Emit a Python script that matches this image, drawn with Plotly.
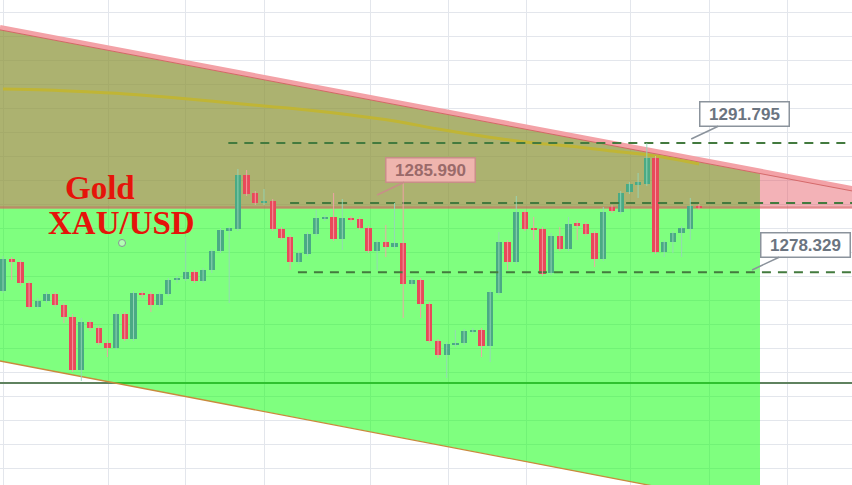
import plotly.graph_objects as go

# ---------------- data ----------------
candle_idx = list(range(81))
opens = [1276.38, 1279.71, 1279.40, 1277.21, 1274.71, 1275.34, 1276.07, 1274.92, 1273.67, 1268.15,
         1273.15, 1272.52, 1270.96, 1270.44, 1273.98, 1271.38, 1276.17, 1276.07, 1274.92, 1276.07,
         1277.52, 1277.63, 1278.36, 1277.42, 1278.57, 1280.55, 1282.73, 1282.84, 1288.46, 1286.59,
         1285.55, 1285.75, 1282.84, 1282.00, 1279.40, 1280.23, 1282.32, 1283.88, 1284.09, 1281.80,
         1283.98, 1283.88, 1282.94, 1280.55, 1281.48, 1280.96, 1281.38, 1277.11, 1277.52, 1275.02,
         1271.17, 1269.71, 1270.75, 1270.96, 1272.11, 1272.32, 1270.65, 1276.17, 1281.48, 1279.40,
         1284.61, 1282.94, 1282.84, 1278.25, 1282.11, 1280.75, 1283.36, 1283.36, 1282.42, 1279.71,
         1285.13, 1284.61, 1286.69, 1287.52, 1287.52, 1290.23, 1280.44, 1281.48, 1282.42, 1282.84,
         1285.23]
highs = [1280.02, 1279.92, 1279.61, 1277.42, 1275.65, 1276.27, 1276.27, 1275.13, 1273.98, 1273.57,
         1273.36, 1272.73, 1271.27, 1274.19, 1274.19, 1276.38, 1276.38, 1276.27, 1276.27, 1277.73,
         1277.94, 1282.00, 1278.57, 1278.77, 1280.75, 1282.94, 1283.05, 1289.09, 1288.98, 1286.79,
         1287.00, 1285.96, 1283.05, 1282.21, 1280.55, 1282.52, 1284.82, 1284.29, 1286.59, 1285.96,
         1284.19, 1284.09, 1283.15, 1281.69, 1283.25, 1285.55, 1287.63, 1277.73, 1277.73, 1275.23,
         1271.38, 1271.07, 1272.32, 1272.42, 1272.52, 1272.52, 1276.48, 1282.52, 1281.69, 1286.27,
         1284.82, 1284.09, 1283.05, 1282.42, 1283.05, 1284.09, 1283.77, 1283.57, 1282.63, 1285.13,
         1285.34, 1286.79, 1287.73, 1288.67, 1291.795, 1290.44, 1281.69, 1282.63, 1283.15, 1286.07,
         1285.44]
lows = [1276.17, 1277.52, 1276.90, 1274.50, 1274.50, 1275.13, 1274.71, 1273.05, 1267.94, 1267.00,
        1272.21, 1270.75, 1269.50, 1270.23, 1271.17, 1271.17, 1275.65, 1274.19, 1274.71, 1275.86,
        1277.21, 1277.42, 1277.21, 1277.21, 1278.25, 1280.34, 1275.13, 1282.63, 1286.27, 1285.34,
        1285.34, 1282.63, 1281.69, 1278.57, 1279.19, 1280.02, 1282.11, 1283.67, 1281.59, 1280.65,
        1283.57, 1282.73, 1280.34, 1278.57, 1279.92, 1280.75, 1273.57, 1276.90, 1273.57, 1270.96,
        1269.40, 1267.32, 1270.54, 1270.75, 1271.90, 1269.50, 1268.98, 1275.96, 1278.57, 1279.19,
        1282.63, 1281.69, 1277.94, 1278.04, 1280.55, 1280.55, 1281.69, 1282.11, 1278.88, 1279.50,
        1284.50, 1284.40, 1286.48, 1286.07, 1287.32, 1280.23, 1279.92, 1280.34, 1279.92, 1281.69,
        1284.82]
closes = [1279.71, 1279.40, 1277.21, 1274.71, 1275.34, 1276.07, 1274.92, 1273.67, 1268.15, 1273.15,
          1272.52, 1270.96, 1270.44, 1273.98, 1271.38, 1276.17, 1275.96, 1274.92, 1276.07, 1277.52,
          1277.73, 1278.36, 1277.42, 1278.57, 1280.55, 1282.73, 1282.84, 1288.46, 1286.48, 1285.55,
          1285.75, 1282.84, 1281.90, 1279.40, 1280.34, 1282.32, 1283.98, 1284.09, 1281.80, 1283.98,
          1283.77, 1282.94, 1280.55, 1281.48, 1280.96, 1281.38, 1277.11, 1277.52, 1275.02, 1271.17,
          1269.71, 1270.86, 1270.96, 1272.21, 1272.32, 1270.65, 1276.27, 1281.48, 1279.40, 1284.61,
          1282.84, 1282.73, 1278.15, 1282.11, 1280.75, 1283.36, 1283.25, 1282.32, 1279.71, 1284.61,
          1284.71, 1286.59, 1287.52, 1287.63, 1290.23, 1280.44, 1281.48, 1282.42, 1282.94, 1285.23,
          1285.02]

# moving average (read at every 5th candle)
ma_idx = [0, 5, 10, 15, 20, 25, 30, 35, 40, 45, 50, 55, 60, 65, 70, 75, 80]
ma_vals = [1297.42, 1297.32, 1297.11, 1296.85, 1296.48, 1296.07, 1295.65, 1295.23, 1294.71,
           1294.09, 1293.25, 1292.52, 1291.90, 1291.48, 1290.96, 1290.44, 1289.61]

# horizontal price levels (value, start candle)
level_vals = [1291.795, 1285.55, 1278.329]
level_start = [25.9, 33.0, 33.9]
support_level = 1266.79

# callout labels (text, anchor candle, anchor price)
label_texts = ["1291.795", "1285.990", "1278.329"]
label_idx = [79.1, 43.0, 86.1]
label_px = [1292.21, 1286.38, 1278.57]

# channel drawing anchors
chan_x = [-0.35, 97.6]
chan_top = [1303.83, 1287.05]
chan_bot = [1269.09, 1252.10]
zone_right = 87.01
pink_floor = 1284.92

x_range = [-0.345, 97.586]
y_range = [1256.17, 1306.69]
grid_x = [0, 12.07, 21.03, 30.1, 42.2, 51.15, 60.2, 72.07, 81.15, 90.2]

UP = "#4aaa84"
DN = "#e8495a"

def top_at(x):
    return chan_top[0] + (chan_top[1] - chan_top[0]) * (x - chan_x[0]) / (chan_x[1] - chan_x[0])

def bot_at(x):
    return chan_bot[0] + (chan_bot[1] - chan_bot[0]) * (x - chan_x[0]) / (chan_x[1] - chan_x[0])

fig = go.Figure()

# MA line
fig.add_trace(go.Scatter(x=ma_idx, y=ma_vals, mode="lines", line=dict(color="#c0b535", width=3, shape="spline"),
                         hoverinfo="skip", showlegend=False))

# dashed levels
for v, s in zip(level_vals, level_start):
    fig.add_trace(go.Scatter(x=[s, x_range[1]], y=[v, v], mode="lines",
                             line=dict(color="#437a3e", width=2, dash="9px,7px"),
                             hoverinfo="skip", showlegend=False))

# wicks
for up in (True, False):
    wx, wy = [], []
    for i, o, h, l, c in zip(candle_idx, opens, highs, lows, closes):
        if (c >= o) == up:
            wx += [i, i, None]
            wy += [l, h, None]
    fig.add_trace(go.Scatter(x=wx, y=wy, mode="lines",
                             line=dict(color="rgba(150,215,185,0.9)" if up else "rgba(245,160,170,0.9)", width=1),
                             hoverinfo="skip", showlegend=False))

# bodies
bases = [min(o, c) for o, c in zip(opens, closes)]
heights = [max(abs(c - o), 0.18) for o, c in zip(opens, closes)]
colors = [UP if c >= o else DN for o, c in zip(opens, closes)]
fig.add_trace(go.Bar(x=candle_idx, y=heights, base=bases, width=0.72,
                     marker=dict(color=colors, line=dict(width=0)), showlegend=False, hoverinfo="skip"))

# small circle marker
fig.add_trace(go.Scatter(x=[13.68], y=[1281.38], mode="markers",
                         marker=dict(symbol="circle", size=7, color="rgba(255,255,255,0.4)",
                                     line=dict(color="#8a8f98", width=1)),
                         hoverinfo="skip", showlegend=False))

shapes = []
# support line (under the fills)
shapes.append(dict(type="line", xref="x", yref="y", x0=x_range[0], x1=x_range[1], y0=support_level, y1=support_level,
                   line=dict(color="#5f825f", width=2), layer="between"))
# green zone
gpath = (f"M {chan_x[0]},{chan_top[0]} L {zone_right},{top_at(zone_right)} "
         f"L {zone_right},{bot_at(zone_right)} L {chan_x[0]},{chan_bot[0]} Z")
shapes.append(dict(type="path", xref="x", yref="y", path=gpath, fillcolor="rgba(0,255,0,0.5)",
                   line=dict(width=0), layer="between"))
# pink zone
ppath = (f"M {chan_x[0]},{chan_top[0]} L {chan_x[1]},{chan_top[1]} "
         f"L {chan_x[1]},{pink_floor} L {chan_x[0]},{pink_floor} Z")
shapes.append(dict(type="path", xref="x", yref="y", path=ppath, fillcolor="rgba(228,84,95,0.45)",
                   line=dict(width=0), layer="between"))
# channel edges
shapes.append(dict(type="line", xref="x", yref="y", x0=chan_x[0], x1=chan_x[1], y0=chan_top[0], y1=chan_top[1],
                   line=dict(color="#f3a2a7", width=5), layer="between"))
shapes.append(dict(type="line", xref="x", yref="y", x0=chan_x[0], x1=chan_x[1], y0=chan_top[0] - 0.25, y1=chan_top[1] - 0.25,
                   line=dict(color="rgba(205,90,90,0.8)", width=1), layer="between"))
shapes.append(dict(type="line", xref="x", yref="y", x0=x_range[0], x1=x_range[1], y0=pink_floor + 0.2, y1=pink_floor + 0.2,
                   line=dict(color="rgba(205,90,90,0.7)", width=1), layer="between"))
shapes.append(dict(type="line", xref="x", yref="y", x0=chan_x[0], x1=chan_x[1], y0=chan_bot[0], y1=chan_bot[1],
                   line=dict(color="#c98a3c", width=1.3), layer="between"))

annotations = []
styles = [
    dict(bg="#ffffff", border="#8b939c", fg="#6b7480"),
    dict(bg="#efb5ae", border="#c88e88", fg="#9a6a6a"),
    dict(bg="#ffffff", border="#8b939c", fg="#6b7480"),
]
for t, xi, yp, st in zip(label_texts, label_idx, label_px, styles):
    annotations.append(dict(x=xi, y=yp, xref="x", yref="y", text=f"<b>{t}</b>", showarrow=True,
                            arrowhead=0, arrowwidth=1.5, arrowcolor=st["border"], ax=53, ay=-25,
                            font=dict(family="Liberation Sans, Arial", size=17, color=st["fg"]),
                            bgcolor=st["bg"], bordercolor=st["border"], borderwidth=1.5, borderpad=1,
                            width=86, height=21, align="center"))

annotations.append(dict(x=100 / 852, y=1 - 188 / 485, xref="paper", yref="paper", text="<b>Gold</b>",
                        showarrow=False, font=dict(family="Liberation Serif, Times New Roman, serif", size=33, color="#e5140a"),
                        xanchor="center", yanchor="middle"))
annotations.append(dict(x=121 / 852, y=1 - 223 / 485, xref="paper", yref="paper", text="<b>XAU/USD</b>",
                        showarrow=False, font=dict(family="Liberation Serif, Times New Roman, serif", size=33, color="#e5140a"),
                        xanchor="center", yanchor="middle"))

fig.update_layout(
    width=852, height=485, margin=dict(l=0, r=0, t=0, b=0),
    paper_bgcolor="white", plot_bgcolor="white",
    shapes=shapes, annotations=annotations, showlegend=False, bargap=0,
    xaxis=dict(range=x_range, tickmode="array", tickvals=grid_x, showticklabels=False,
               showgrid=True, gridcolor="#e3e6ec", gridwidth=1, zeroline=False, showline=False, fixedrange=True),
    yaxis=dict(range=y_range, tick0=1305.34, dtick=2.5, showticklabels=False,
               showgrid=True, gridcolor="#e3e6ec", gridwidth=1, zeroline=False, showline=False, fixedrange=True),
)

fig.write_html("out.html", config={"displayModeBar": False},
               post_script="document.body.style.margin='0';document.body.style.padding='0';")
